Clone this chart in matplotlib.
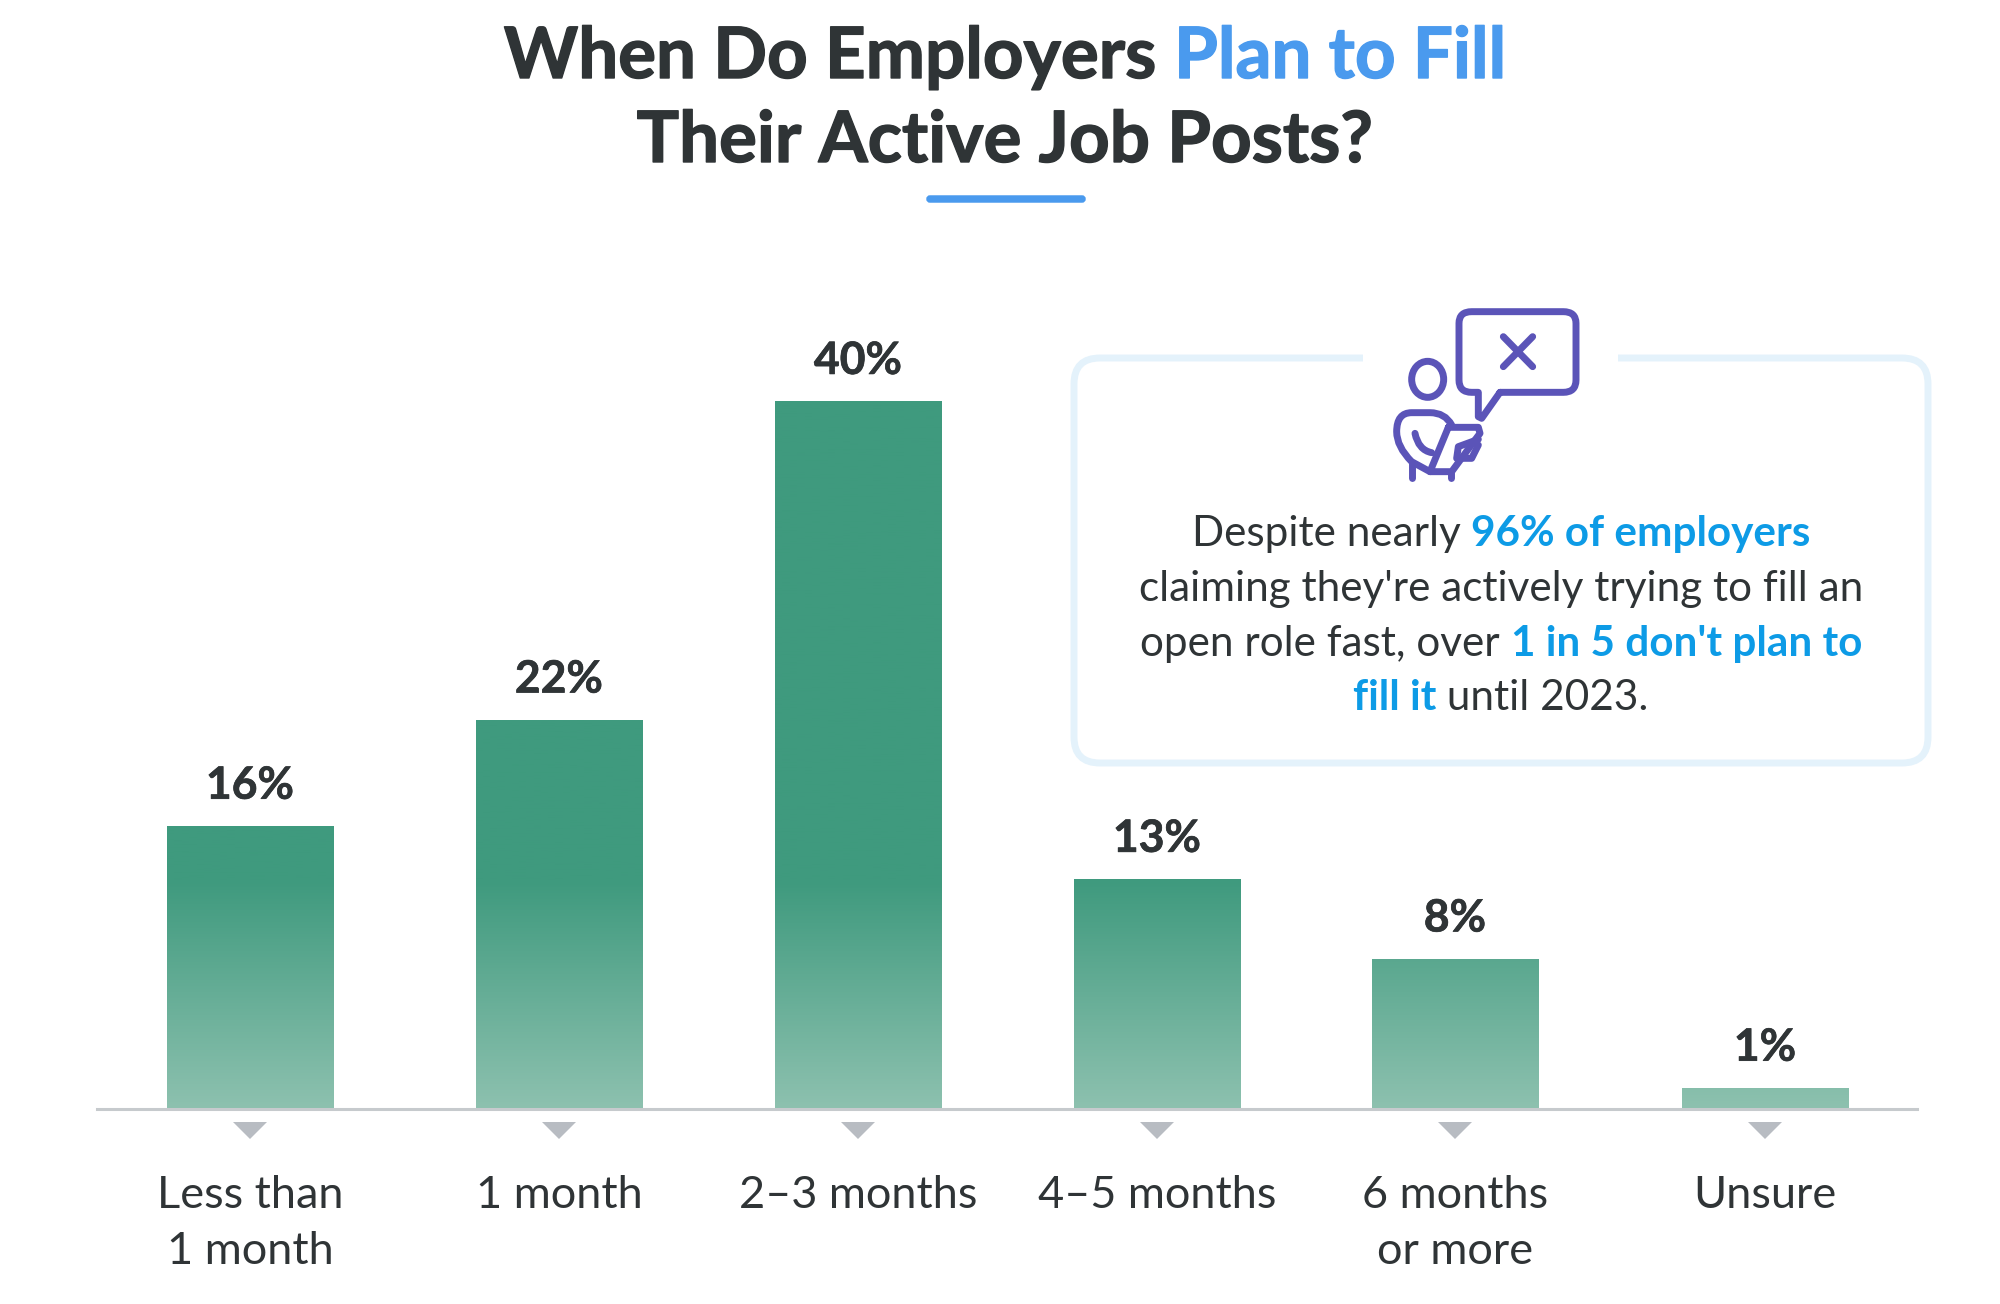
"""Time-to-fill survey chart: gradient bars with a callout box."""

import matplotlib

matplotlib.use("Agg")

import matplotlib.patheffects as pe
import matplotlib.pyplot as plt
import numpy as np
from matplotlib.colors import LinearSegmentedColormap
from matplotlib.patches import Ellipse, FancyBboxPatch, PathPatch, Polygon, Rectangle
from matplotlib.path import Path

categories = ["Less than\n1 month", "1 month", "2–3 months", "4–5 months", "6 months\nor more", "Unsure"]
value_labels = ["16%", "22%", "40%", "13%", "8%", "1%"]
# bar heights as drawn in the picture, which run a little off the printed labels
bar_heights = [16, 22, 40, 13, 8.5, 1.2]
title_lines = [
    [("When Do Employers ", "dark"), ("Plan to Fill", "title_blue")],
    [("Their Active Job Posts?", "dark")],
]
callout_lines = [
    [("Despite nearly ", "dark"), ("96% of employers", "blue")],
    [("claiming they're actively trying to fill an", "dark")],
    [("open role fast, over ", "dark"), ("1 in 5 don't plan to", "blue")],
    [("fill it", "blue"), (" until 2023.", "dark")],
]

W, H = 2000, 1304
DARK = "#2f3436"
COLORS = {"dark": DARK, "title_blue": "#4a9aee", "blue": "#0d9be6"}
PURPLE = "#5b54b8"
GRID = "#c6cacd"
BAR_CENTERS = [250, 559, 858, 1157, 1455, 1765]
BAR_WIDTH = 167
BASELINE = 1109
TOP_40 = 401

plt.rcParams["font.family"] = ["Lato", "DejaVu Sans"]

fig = plt.figure(figsize=(W / 100, H / 100), dpi=100)
fig.patch.set_facecolor("white")

# overlay in pixel coordinates for title, callout and icon
over = fig.add_axes([0, 0, 1, 1], zorder=3)
over.set_xlim(0, W)
over.set_ylim(H, 0)
over.axis("off")
over.patch.set_alpha(0)

# bar axes: x in pixels, y in percent
ax = fig.add_axes([97 / W, 1 - BASELINE / H, (1917 - 97) / W, (BASELINE - TOP_40) / H], zorder=2)
ax.patch.set_alpha(0)
for side in ("top", "left", "right"):
    ax.spines[side].set_visible(False)
ax.spines["bottom"].set_color(GRID)
ax.spines["bottom"].set_linewidth(2.2)
ax.set_yticks([])

bars = ax.bar(BAR_CENTERS, bar_heights, width=BAR_WIDTH, color="none", linewidth=0)
cmap = LinearSegmentedColormap.from_list(
    "fade", [(0, "#3f9a7e"), (0.68, "#3f9a7e"), (1, "#8dc1af")]
)
gradient = np.linspace(0, 1, 256).reshape(-1, 1)
for bar in bars:
    img = ax.imshow(gradient, cmap=cmap, extent=[50, 1950, 0, 40], origin="upper", aspect="auto", zorder=1)
    img.set_clip_path(bar)
ax.set_xlim(97, 1917)
ax.set_ylim(0, 40)

label_stroke = [pe.withStroke(linewidth=0.5, foreground=DARK)]
for x, value, label in zip(BAR_CENTERS, bar_heights, value_labels):
    ax.annotate(
        label, (x, value), xytext=(0, 19.5), textcoords="offset points",
        ha="center", va="baseline", fontsize=32, fontweight="bold", color=DARK,
        path_effects=label_stroke,
    )

ax.set_xticks(BAR_CENTERS)
ax.set_xticklabels([])
ax.tick_params(length=0)

for x, label in zip(BAR_CENTERS, categories):
    over.add_patch(Polygon([(x - 17, 1122), (x + 17, 1122), (x, 1139)], closed=True, color="#b8bcc2", lw=0))
    for i, line in enumerate(label.split("\n")):
        over.text(x, 1208 + i * 56, line, ha="center", va="baseline", fontsize=32.5, color=DARK)

renderer = fig.canvas.get_renderer()


def seg_width(text, **kw):
    a = over.text(0, 0, text + ".", **kw)
    b = over.text(0, 0, ".", **kw)
    w = a.get_window_extent(renderer).width - b.get_window_extent(renderer).width
    a.remove()
    b.remove()
    return w


def rich_line(center, y, segments, fontsize, weight_of, stroke_width=0):
    widths = [seg_width(s, fontsize=fontsize, fontweight=weight_of(c)) for s, c in segments]
    x = center - sum(widths) / 2
    for (s, c), w in zip(segments, widths):
        effects = [pe.withStroke(linewidth=stroke_width, foreground=COLORS[c])] if stroke_width else None
        over.text(x, y, s, ha="left", va="baseline", color=COLORS[c], fontsize=fontsize,
                  fontweight=weight_of(c), path_effects=effects)
        x += w


for y, segments in zip([78, 162], title_lines):
    rich_line(1005, y, segments, 51, lambda c: "bold", stroke_width=1.0)
over.add_patch(FancyBboxPatch((928, 197), 156, 4, boxstyle="round,pad=0,rounding_size=2",
                              facecolor="#4a9aee", edgecolor="#4a9aee", linewidth=2.5))

# callout
over.add_patch(FancyBboxPatch((1074, 358), 854, 405, boxstyle="round,pad=0,rounding_size=26",
                              facecolor="white", edgecolor="#e4f2fb", linewidth=5))
over.add_patch(Rectangle((1363, 345), 255, 30, facecolor="white", edgecolor="none"))
for y, segments in zip([546, 601, 656, 710], callout_lines):
    rich_line(1501, y, segments, 30.4, lambda c: "bold" if c == "blue" else "normal")


def ic(zx, zy):
    return 1380 + zx / 3, 290 + zy / 3


def stroke(points, codes=None, lw=5):
    pts = [ic(*p) for p in points]
    over.add_patch(PathPatch(Path(pts, codes), facecolor="none", edgecolor=PURPLE,
                             linewidth=lw, capstyle="round", joinstyle="round"))


M, L, Q = Path.MOVETO, Path.LINETO, Path.CURVE3
# speech bubble
stroke(
    [(360, 307), (550, 307), (588, 307), (588, 270), (588, 100), (588, 65), (550, 65),
     (275, 65), (237, 65), (237, 100), (237, 270), (237, 307), (275, 307), (295, 307),
     (295, 380), (305, 385), (360, 307)],
    [M, L, Q, Q, L, Q, Q, L, Q, Q, L, Q, Q, L, L, L, L],
)
stroke([(370, 140), (458, 230)])
stroke([(458, 140), (370, 230)])
# head
hx, hy = ic(143, 268)
over.add_patch(Ellipse((hx, hy), 96 / 3, 108 / 3, facecolor="none", edgecolor=PURPLE, linewidth=5))
# body, arm, laptop, hand, legs
stroke(
    [(215, 405), (195, 368), (150, 368), (95, 368), (50, 368), (50, 425), (50, 470), (95, 515), (150, 545)],
    [M, Q, Q, L, Q, Q, Q, Q, L],
)
stroke([(105, 430), (115, 480), (155, 488)], [M, Q, Q])
stroke([(205, 412), (295, 412), (300, 430), (285, 450), (215, 545), (150, 545), (205, 412)],
       [M, L, L, L, L, L, L])
stroke([(295, 448), (235, 470), (230, 505), (275, 505), (295, 465)], [M, L, L, L, L])
stroke([(95, 520), (95, 565)])
stroke([(212, 548), (212, 565)])

fig.savefig("out.png", dpi=100)
